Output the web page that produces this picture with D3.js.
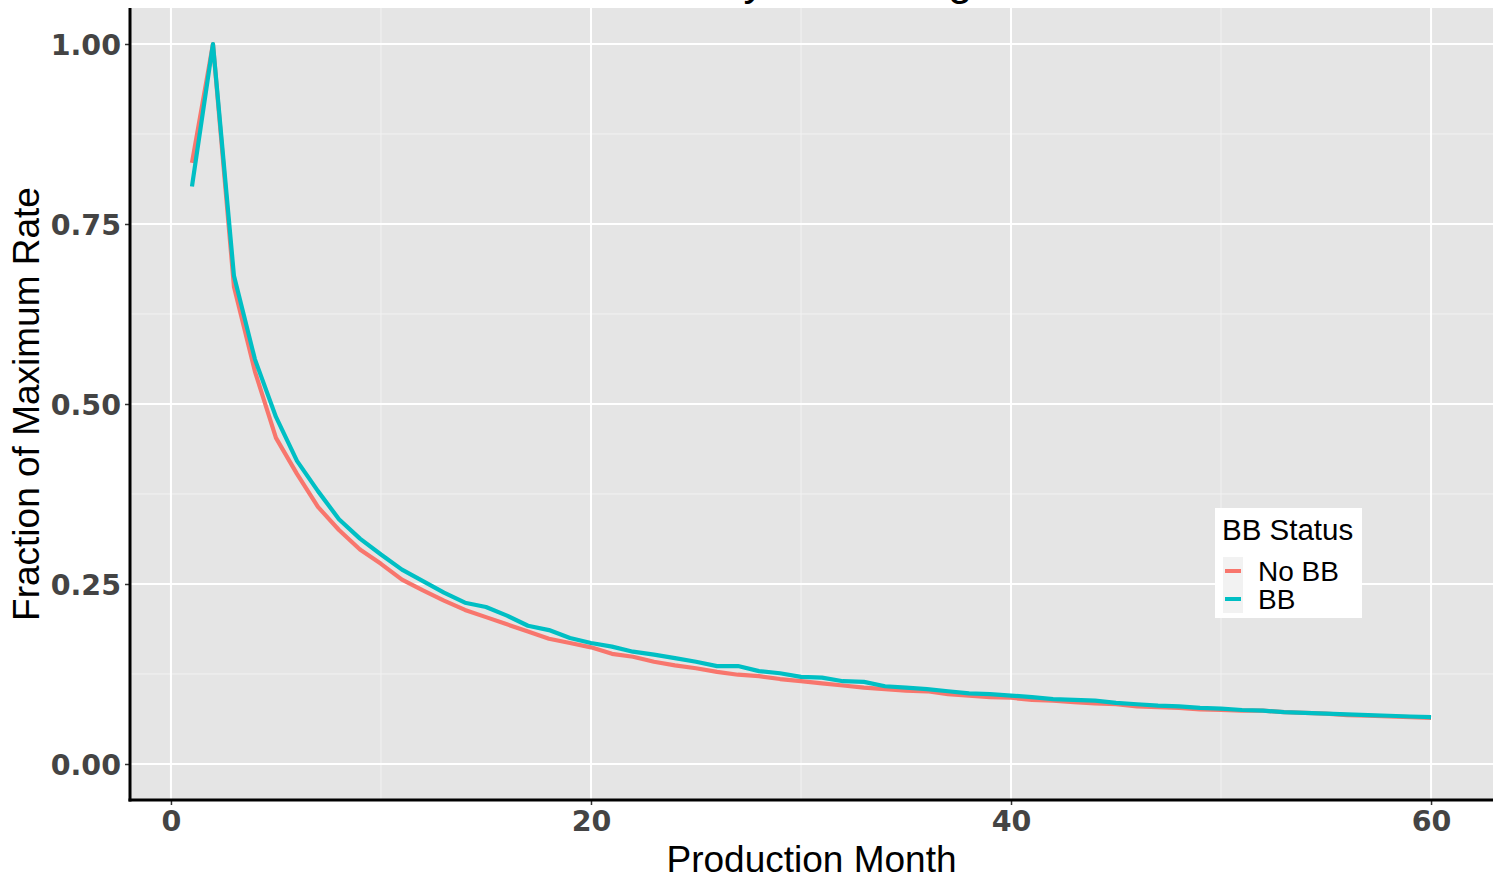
<!DOCTYPE html>
<html>
<head>
<meta charset="utf-8">
<script src="https://cdn.jsdelivr.net/npm/d3@7"></script>
<style>
  body { margin: 0; background: #fff; }
  svg { display: block; font-family: "Liberation Sans", Arial, sans-serif; }
</style>
</head>
<body>
<div id="chart"></div>
<script>
// production month 1..60
var months = d3.range(1, 61);

var noBB = [0.835, 1.000, 0.663, 0.545, 0.453, 0.403, 0.357, 0.325, 0.298, 0.278,
            0.256, 0.241, 0.227, 0.214, 0.204, 0.194, 0.184, 0.174, 0.168, 0.162,
            0.153, 0.149, 0.142, 0.137, 0.133, 0.128, 0.124, 0.122, 0.118, 0.115,
            0.112, 0.109, 0.106, 0.104, 0.102, 0.101, 0.097, 0.095, 0.093, 0.092,
            0.089, 0.088, 0.086, 0.084, 0.083, 0.080, 0.079, 0.078, 0.076, 0.075,
            0.074, 0.074, 0.072, 0.071, 0.070, 0.068, 0.067, 0.066, 0.065, 0.064];

var bb = [0.802, 1.000, 0.678, 0.562, 0.482, 0.421, 0.379, 0.340, 0.313, 0.291,
          0.270, 0.254, 0.238, 0.224, 0.218, 0.206, 0.192, 0.186, 0.175, 0.168,
          0.163, 0.156, 0.152, 0.147, 0.142, 0.136, 0.136, 0.129, 0.126, 0.121,
          0.120, 0.115, 0.114, 0.108, 0.106, 0.104, 0.101, 0.098, 0.097, 0.095,
          0.093, 0.090, 0.089, 0.088, 0.085, 0.083, 0.081, 0.080, 0.078, 0.077,
          0.075, 0.074, 0.072, 0.071, 0.070, 0.069, 0.068, 0.067, 0.066, 0.065];

var seriesNames = ["No BB", "BB"];
var seriesColors = ["#F8766D", "#00BFC4"];
var xTicks = [0, 20, 40, 60];
var xMinor = [10, 30, 50];
var yTicks = [0, 0.25, 0.5, 0.75, 1.0];
var yMinor = [0.125, 0.375, 0.625, 0.875];

var props = {
  width: 1500,
  height: 880,
  marginTop: 8,
  marginRight: 7,
  marginBottom: 80,
  marginLeft: 130
};

var svg = d3.select("#chart").append("svg")
  .attr("width", props.width)
  .attr("height", props.height);

var x = d3.scaleLinear().domain([-1.95, 62.95])
  .range([props.marginLeft, props.width - props.marginRight]);
var y = d3.scaleLinear().domain([-0.05, 1.05])
  .range([props.height - props.marginBottom, props.marginTop]);

// title sits above the top edge, only its descenders show (as in the original)
svg.append("text")
  .attr("x", (props.marginLeft + props.width - props.marginRight) / 2)
  .attr("y", -5)
  .attr("text-anchor", "middle")
  .style("font-size", "44px")
  .style("fill", "#000")
  .text("Rate by Well Length");

// panel
svg.append("rect")
  .attr("x", x.range()[0]).attr("y", y.range()[1])
  .attr("width", x.range()[1] - x.range()[0])
  .attr("height", y.range()[0] - y.range()[1])
  .style("fill", "#e5e5e5");

var grid = svg.append("g").attr("class", "grid");
grid.selectAll(".minor-x").data(xMinor).enter().append("line")
  .attr("x1", function(d){ return x(d); }).attr("x2", function(d){ return x(d); })
  .attr("y1", y.range()[0]).attr("y2", y.range()[1])
  .style("stroke", "#f2f2f2").style("stroke-width", 1);
grid.selectAll(".minor-y").data(yMinor).enter().append("line")
  .attr("y1", function(d){ return y(d); }).attr("y2", function(d){ return y(d); })
  .attr("x1", x.range()[0]).attr("x2", x.range()[1])
  .style("stroke", "#f2f2f2").style("stroke-width", 1);
grid.selectAll(".major-x").data(xTicks).enter().append("line")
  .attr("x1", function(d){ return x(d); }).attr("x2", function(d){ return x(d); })
  .attr("y1", y.range()[0]).attr("y2", y.range()[1])
  .style("stroke", "#fff").style("stroke-width", 2);
grid.selectAll(".major-y").data(yTicks).enter().append("line")
  .attr("y1", function(d){ return y(d); }).attr("y2", function(d){ return y(d); })
  .attr("x1", x.range()[0]).attr("x2", x.range()[1])
  .style("stroke", "#fff").style("stroke-width", 2);

// lines
var line = d3.line()
  .x(function(d){ return x(d.month); })
  .y(function(d){ return y(d.value); });

var seriesData = [noBB, bb].map(function(vals, i){
  return {
    name: seriesNames[i],
    color: seriesColors[i],
    values: months.map(function(m, j){ return {month: m, value: vals[j]}; })
  };
});

svg.selectAll(".rate-line").data(seriesData).enter().append("path")
  .attr("class", "rate-line")
  .attr("d", function(d){ return line(d.values); })
  .style("fill", "none")
  .style("stroke", function(d){ return d.color; })
  .style("stroke-width", 4.2)
  .style("stroke-linejoin", "round");

// axes
var xAxis = svg.append("g")
  .attr("transform", "translate(0," + y.range()[0] + ")")
  .call(d3.axisBottom(x).tickValues(xTicks).tickSize(5).tickPadding(6).tickFormat(d3.format("d")));
var yAxis = svg.append("g")
  .attr("transform", "translate(" + x.range()[0] + ",0)")
  .call(d3.axisLeft(y).tickValues(yTicks).tickSize(5).tickPadding(4).tickFormat(d3.format(".2f")));

[xAxis, yAxis].forEach(function(a){
  a.select(".domain").remove();
  a.selectAll(".tick line").style("stroke", "#333").style("stroke-width", 1.5);
  a.selectAll(".tick text")
    .style("font-family", "'DejaVu Sans', sans-serif")
    .style("font-size", "28.5px")
    .style("font-weight", "bold")
    .style("fill", "#444");
});
yAxis.selectAll(".tick text").attr("dy", "0.36em");

// axis lines
svg.append("line")
  .attr("x1", x.range()[0]).attr("x2", x.range()[0])
  .attr("y1", y.range()[1]).attr("y2", y.range()[0] + 1.5)
  .style("stroke", "#000").style("stroke-width", 3);
svg.append("line")
  .attr("x1", x.range()[0] - 1.5).attr("x2", x.range()[1])
  .attr("y1", y.range()[0]).attr("y2", y.range()[0])
  .style("stroke", "#000").style("stroke-width", 3);

// axis titles
svg.append("text")
  .attr("x", (x.range()[0] + x.range()[1]) / 2)
  .attr("y", 872)
  .attr("text-anchor", "middle")
  .style("font-size", "37px")
  .text("Production Month");
svg.append("text")
  .attr("transform", "translate(39," + ((y.range()[0] + y.range()[1]) / 2) + ") rotate(-90)")
  .attr("text-anchor", "middle")
  .style("font-size", "37px")
  .text("Fraction of Maximum Rate");

// legend
var legend = svg.append("g").attr("transform", "translate(1215,508)");
legend.append("rect")
  .attr("width", 147).attr("height", 110)
  .style("fill", "#fff");
legend.append("text")
  .attr("x", 7).attr("y", 32)
  .style("font-size", "29.5px")
  .text("BB Status");
var keys = legend.selectAll(".key").data(seriesData).enter().append("g")
  .attr("class", "key")
  .attr("transform", function(d, i){ return "translate(8," + (49 + i * 28) + ")"; });
keys.append("rect")
  .attr("width", 20).attr("height", 28)
  .style("fill", "#f2f2f2");
keys.append("line")
  .attr("x1", 2).attr("x2", 18).attr("y1", 14).attr("y2", 14)
  .style("stroke", function(d){ return d.color; })
  .style("stroke-width", 4);
keys.append("text")
  .attr("x", 35).attr("y", 24)
  .style("font-size", "28px")
  .text(function(d){ return d.name; });
</script>
</body>
</html>
